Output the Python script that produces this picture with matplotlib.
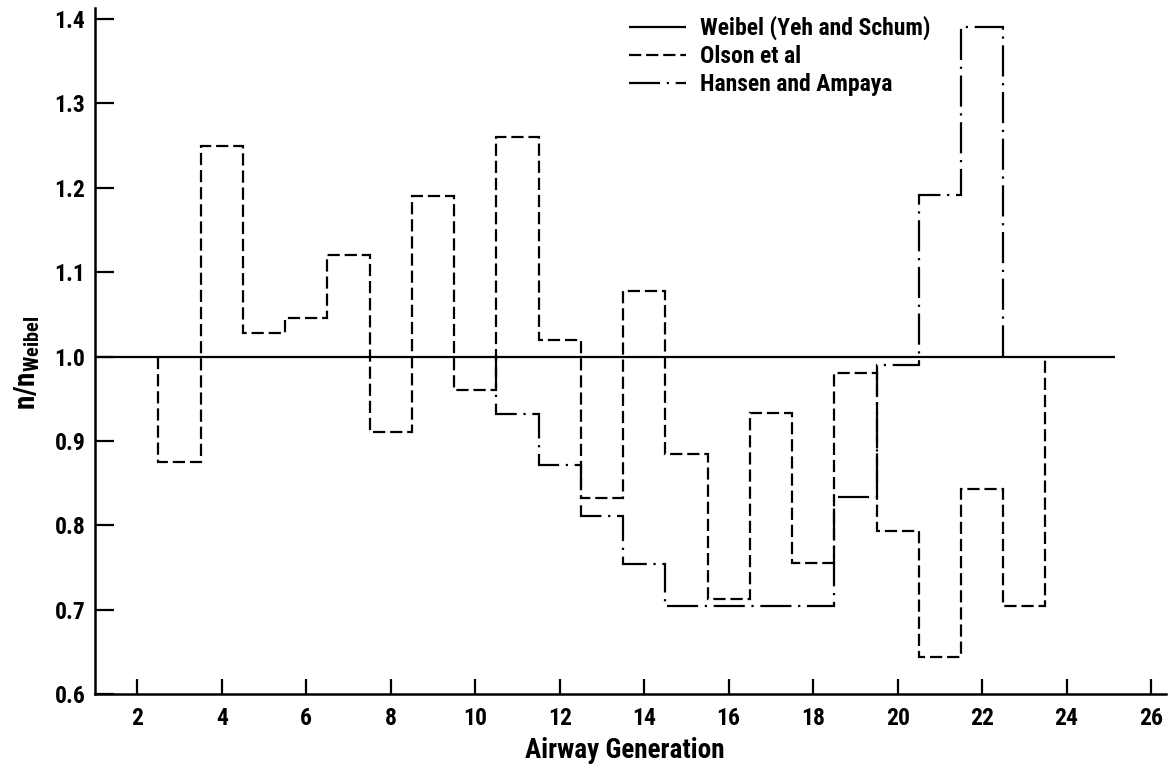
import numpy as np
import matplotlib
matplotlib.use("Agg")
import matplotlib.pyplot as plt
from matplotlib import font_manager

# ---------------- data ----------------
weibel_x = [1.0, 25.15]
weibel_y = [1.0, 1.0]

olson_gen = [3, 4, 5, 6, 7, 8, 9, 10, 11, 12, 13, 14, 15, 16, 17, 18, 19, 20, 21, 22, 23]
olson_val = [0.875, 1.25, 1.028, 1.046, 1.12, 0.91, 1.19, 0.96, 1.26, 1.02, 0.832,
             1.078, 0.884, 0.713, 0.933, 0.755, 0.98, 0.793, 0.644, 0.843, 0.704]

hansen_gen = [11, 12, 13, 14, 15, 16, 17, 18, 19, 20, 21, 22]
hansen_val = [0.932, 0.872, 0.811, 0.754, 0.704, 0.704, 0.704, 0.704, 0.833, 0.99, 1.191, 1.391]

xticks = [2, 4, 6, 8, 10, 12, 14, 16, 18, 20, 22, 24, 26]
yticks = [0.6, 0.7, 0.8, 0.9, 1.0, 1.1, 1.2, 1.3, 1.4]
labels = ["Weibel (Yeh and Schum)", "Olson et al", "Hansen and Ampaya"]

# ---------------- fonts ----------------
avail = {f.name for f in font_manager.fontManager.ttflist}
font = "DejaVu Sans"
for cand in ["Liberation Sans Narrow", "Roboto Condensed", "Roboto", "Liberation Sans"]:
    if cand in avail:
        font = cand
        break
plt.rcParams["font.family"] = [font, "DejaVu Sans"]
plt.rcParams["font.weight"] = "bold"
plt.rcParams["mathtext.fontset"] = "custom"
plt.rcParams["mathtext.rm"] = font
plt.rcParams["mathtext.bf"] = font + ":bold"

W, H = 1172, 770
fig = plt.figure(figsize=(W / 100, H / 100), dpi=100)
ax = fig.add_axes([95.06 / W, 1 - 694 / H, (1166.3 - 95.06) / W, (694 - 8.3) / H])

lw = 1.6
ax.plot(weibel_x, weibel_y, color="black", lw=lw, solid_capstyle="butt", label=labels[0])

og = np.array(olson_gen, dtype=float)
ax.stairs(olson_val, np.append(og - 0.5, og[-1] + 0.5), baseline=1.0,
          color="black", lw=lw, linestyle=(0, (5.5, 2.2)), label=labels[1])

hg = np.array(hansen_gen, dtype=float)
ax.stairs(hansen_val, np.append(hg - 0.5, hg[-1] + 0.5), baseline=1.0,
          color="black", lw=lw, linestyle=(0, (14, 3, 1, 3)), label=labels[2])

ax.set_xlim(1.0, 26.36)
ax.set_ylim(0.6, 1.4127)
ax.set_xticks(xticks)
ax.set_xticklabels([str(t) for t in xticks])
ax.set_yticks(yticks)
ax.set_yticklabels([f"{t:.1f}" for t in yticks])

for s in ["top", "right"]:
    ax.spines[s].set_visible(False)
for s in ["left", "bottom"]:
    ax.spines[s].set_linewidth(1.8)

ax.tick_params(axis="x", direction="in", length=10.8, width=1.6, pad=9.5, labelsize=17)
ax.tick_params(axis="y", direction="in", length=13.7, width=1.6, pad=7, labelsize=17)

fig.text(525 / W, 1 - 758 / H, "Airway Generation", fontsize=19.5, fontweight="bold",
         ha="left", va="baseline")
fig.text(27 / W, 1 - 363 / H, r"$\mathbf{n/n_{Weibel}}$", fontsize=21, rotation=90,
         ha="center", va="center")

leg = ax.legend(loc="upper left", bbox_to_anchor=(629 / W, 1 - 16 / H),
                bbox_transform=fig.transFigure, frameon=False, fontsize=17,
                handlelength=2.4, handletextpad=0.6, labelspacing=0.2, borderpad=0,
                borderaxespad=0)

fig.savefig("out.png", dpi=100, facecolor="white")
